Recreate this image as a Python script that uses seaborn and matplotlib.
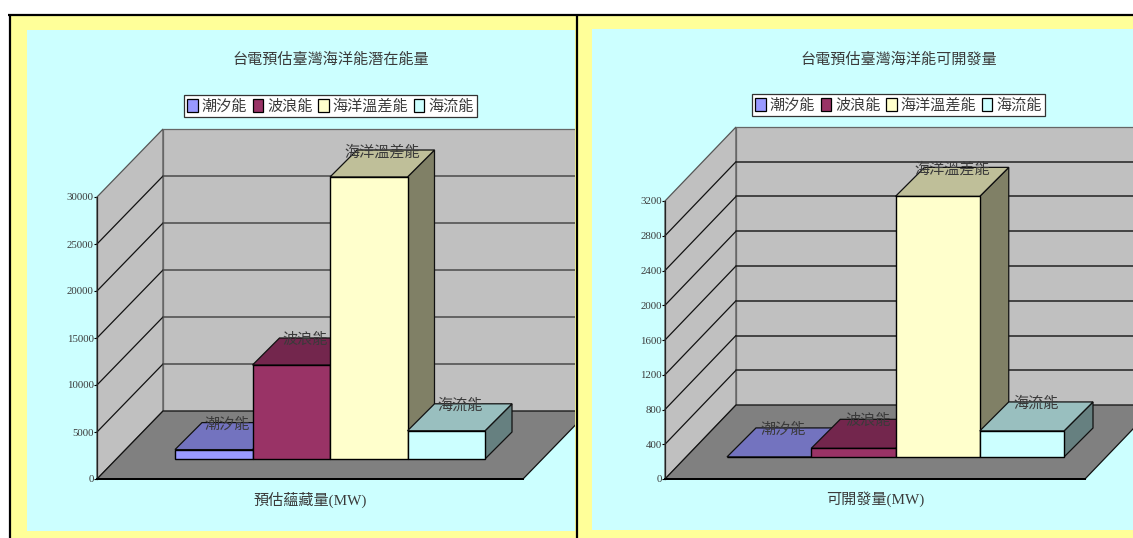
import matplotlib
matplotlib.use("Agg")
import matplotlib.pyplot as plt
import seaborn as sns
from matplotlib.patches import Polygon, Rectangle, Patch
from matplotlib.colors import to_rgb

# Data
categories = ["潮汐能", "波浪能", "海洋溫差能", "海流能"]
potential_mw = [1000, 10000, 30000, 3000]
developable_mw = [1, 100, 3000, 300]
potential_ticks = [0, 5000, 10000, 15000, 20000, 25000, 30000]
developable_ticks = [0, 400, 800, 1200, 1600, 2000, 2400, 2800, 3200]
potential_title = "台電預估臺灣海洋能潛在能量"
developable_title = "台電預估臺灣海洋能可開發量"
potential_xlabel = "預估蘊藏量(MW)"
developable_xlabel = "可開發量(MW)"

# Styling
colors = ["#9999FF", "#993366", "#FFFFCC", "#CCFFFF"]
W, H = 1133, 538
TEXT = "#3A3A3A"
CJK = ["Liberation Serif", "Noto Sans CJK TC"]

sns.set_theme(style="white")
plt.rcParams["font.family"] = CJK

fig = plt.figure(figsize=(W / 100, H / 100), dpi=100, facecolor="white")

# Page layer in pixel coordinates
bg = fig.add_axes([0, 0, 1, 1], zorder=0)
bg.set_xlim(0, W)
bg.set_ylim(H, 0)
bg.axis("off")


def shade(color, factor):
    return tuple(c * factor for c in to_rgb(color))


def px_axes(x0, x1, y_bottom, y_top, zorder):
    return fig.add_axes(
        [x0 / W, 1 - y_bottom / H, (x1 - x0) / W, (y_bottom - y_top) / H],
        zorder=zorder,
    )


def panel(px0, px1, cx0, cx1, cy0, cy1):
    bg.add_patch(Rectangle((px0, 15), px1 - px0, H - 15, fc="#FFFF99", ec="none"))
    cyan = Rectangle((cx0, cy0), cx1 - cx0, cy1 - cy0, fc="#CCFFFF", ec="none")
    bg.add_patch(cyan)
    return cyan


def draw_chart(values, ticks, title, xlabel, clip, frame_box, bar_box,
               title_xy, legend_box, grid_color):
    ymax = ticks[-1]
    fx0, fx1, fy0, fy1, fdx, fdy = frame_box

    # Walls, floor and gridlines
    frame = px_axes(fx0, fx1, fy0, fy1, 1)
    frame.patch.set_alpha(0)
    frame.set_xlim(0, 1)
    frame.set_ylim(0, ymax)
    ddx = fdx / (fx1 - fx0)
    ddy = fdy / (fy0 - fy1) * ymax
    walls = [
        ([(0, 0), (ddx, ddy), (ddx, ymax + ddy), (0, ymax)], "#C0C0C0", "#555555"),
        ([(ddx, ddy), (1 + ddx, ddy), (1 + ddx, ymax + ddy), (ddx, ymax + ddy)],
         "#C0C0C0", "#666666"),
        ([(0, 0), (1, 0), (1 + ddx, ddy), (ddx, ddy)], "#808080", "#111111"),
    ]
    for pts, fc, ec in walls:
        poly = Polygon(pts, closed=True, fc=fc, ec=ec, lw=0.9, zorder=1, clip_on=False)
        frame.add_patch(poly)
        poly.set_clip_on(True)
        poly.set_clip_path(clip)
    for v in ticks[1:-1]:
        side_line, = frame.plot([0, ddx], [v, v + ddy], color="#111111", lw=0.9, zorder=1.5)
        back_line, = frame.plot([ddx, 1 + ddx], [v + ddy, v + ddy], color=grid_color,
                                lw=1.1, zorder=1.5)
        side_line.set_clip_path(clip)
        back_line.set_clip_path(clip)
    for name in ("top", "right"):
        frame.spines[name].set_visible(False)
    frame.spines["left"].set_linewidth(0.9)
    frame.spines["left"].set_color("#222222")
    frame.spines["bottom"].set_linewidth(1.4)
    frame.spines["bottom"].set_color("black")
    frame.set_yticks(ticks)
    frame.set_yticklabels([str(t) for t in ticks], fontsize=7.8, color=TEXT)
    frame.set_xticks([1])
    frame.set_xticklabels([""])
    frame.tick_params(axis="y", left=True, length=2, width=0.8, pad=0.3, color="black")
    frame.tick_params(axis="x", bottom=True, direction="in", length=4, width=0.8, color="black")
    frame.set_xlabel(xlabel, fontsize=10.9, color=TEXT, labelpad=5.5)

    # Bars: front faces come from seaborn, depth faces are derived from the same values
    bx0, bx1, base, px_height, depth_px = bar_box
    ax = px_axes(bx0, bx1, base, base - px_height, 2)
    sns.barplot(x=categories, y=values, hue=categories, palette=colors, width=1,
                dodge=False, legend=False, saturation=1, edgecolor="black", linewidth=1.0, ax=ax)
    ax.set_xlim(-0.5, len(categories) - 0.5)
    ax.set_ylim(0, ymax)
    ax.axis("off")
    dx = depth_px / ((bx1 - bx0) / len(categories))
    dy = depth_px / px_height * ymax
    bars = ax.patches
    for i, (bar, v, c) in enumerate(zip(bars, values, colors)):
        left, right = i - 0.5, i + 0.5
        top = Polygon([(left, v), (right, v), (right + dx, v + dy), (left + dx, v + dy)],
                      closed=True, fc=shade(c, 0.75), ec="#111111", lw=0.9,
                      zorder=2 * i + 2, clip_on=False)
        side = Polygon([(right, 0), (right + dx, dy), (right + dx, v + dy), (right, v)],
                       closed=True, fc=shade(c, 0.5), ec="#111111", lw=0.9,
                       zorder=2 * i + 2, clip_on=False)
        ax.add_patch(side)
        ax.add_patch(top)
        bar.set_zorder(2 * i + 3)
        bar.set_clip_on(False)
        ax.annotate(categories[i], (i + dx / 2, v + dy), xytext=(0, -1.4),
                    textcoords="offset points", ha="center", va="center",
                    fontsize=10.9, color=TEXT, zorder=20, annotation_clip=False)

    # Title and legend
    bg.text(title_xy[0], title_xy[1], title, ha="center", va="center",
            fontsize=10.9, color=TEXT)
    handles = [Patch(fc=c, ec="black", lw=0.9) for c in colors]
    leg = ax.legend(handles, categories, ncol=4, loc="center",
                    bbox_to_anchor=(legend_box[0] / W, 1 - legend_box[1] / H),
                    bbox_transform=fig.transFigure, fontsize=10.9, frameon=True,
                    fancybox=False, framealpha=1, facecolor="white", edgecolor="#333333",
                    handlelength=0.68, handleheight=1.0, handletextpad=0.25,
                    columnspacing=0.4, borderpad=0.25, borderaxespad=0)
    leg.get_frame().set_linewidth(0.9)
    leg.set_zorder(30)
    for text in leg.get_texts():
        text.set_color(TEXT)


left_clip = panel(10, 576, 27, 575, 30, 531)
right_clip = panel(578, W, 592, W, 29, 530)

draw_chart(potential_mw, potential_ticks, potential_title, potential_xlabel, left_clip,
           frame_box=(97, 523, 479, 197, 66, 68),
           bar_box=(175, 485, 459, 282, 27),
           title_xy=(330.5, 60), legend_box=(330.5, 106), grid_color="#4A4A4A")
draw_chart(developable_mw, developable_ticks, developable_title, developable_xlabel, right_clip,
           frame_box=(665, 1085, 479, 201, 71, 74),
           bar_box=(727, 1064, 457, 278, 29),
           title_xy=(898.5, 60), legend_box=(898.5, 105), grid_color="#222222")

# Black rules framing the two panels
bg.plot([8, W], [15, 15], color="black", lw=1.6, solid_capstyle="butt")
bg.plot([9.5, 9.5], [15, H], color="black", lw=1.6, solid_capstyle="butt")
bg.plot([576.5, 576.5], [15, H], color="black", lw=1.6, solid_capstyle="butt")

fig.savefig("out.png", dpi=100, facecolor="white")
